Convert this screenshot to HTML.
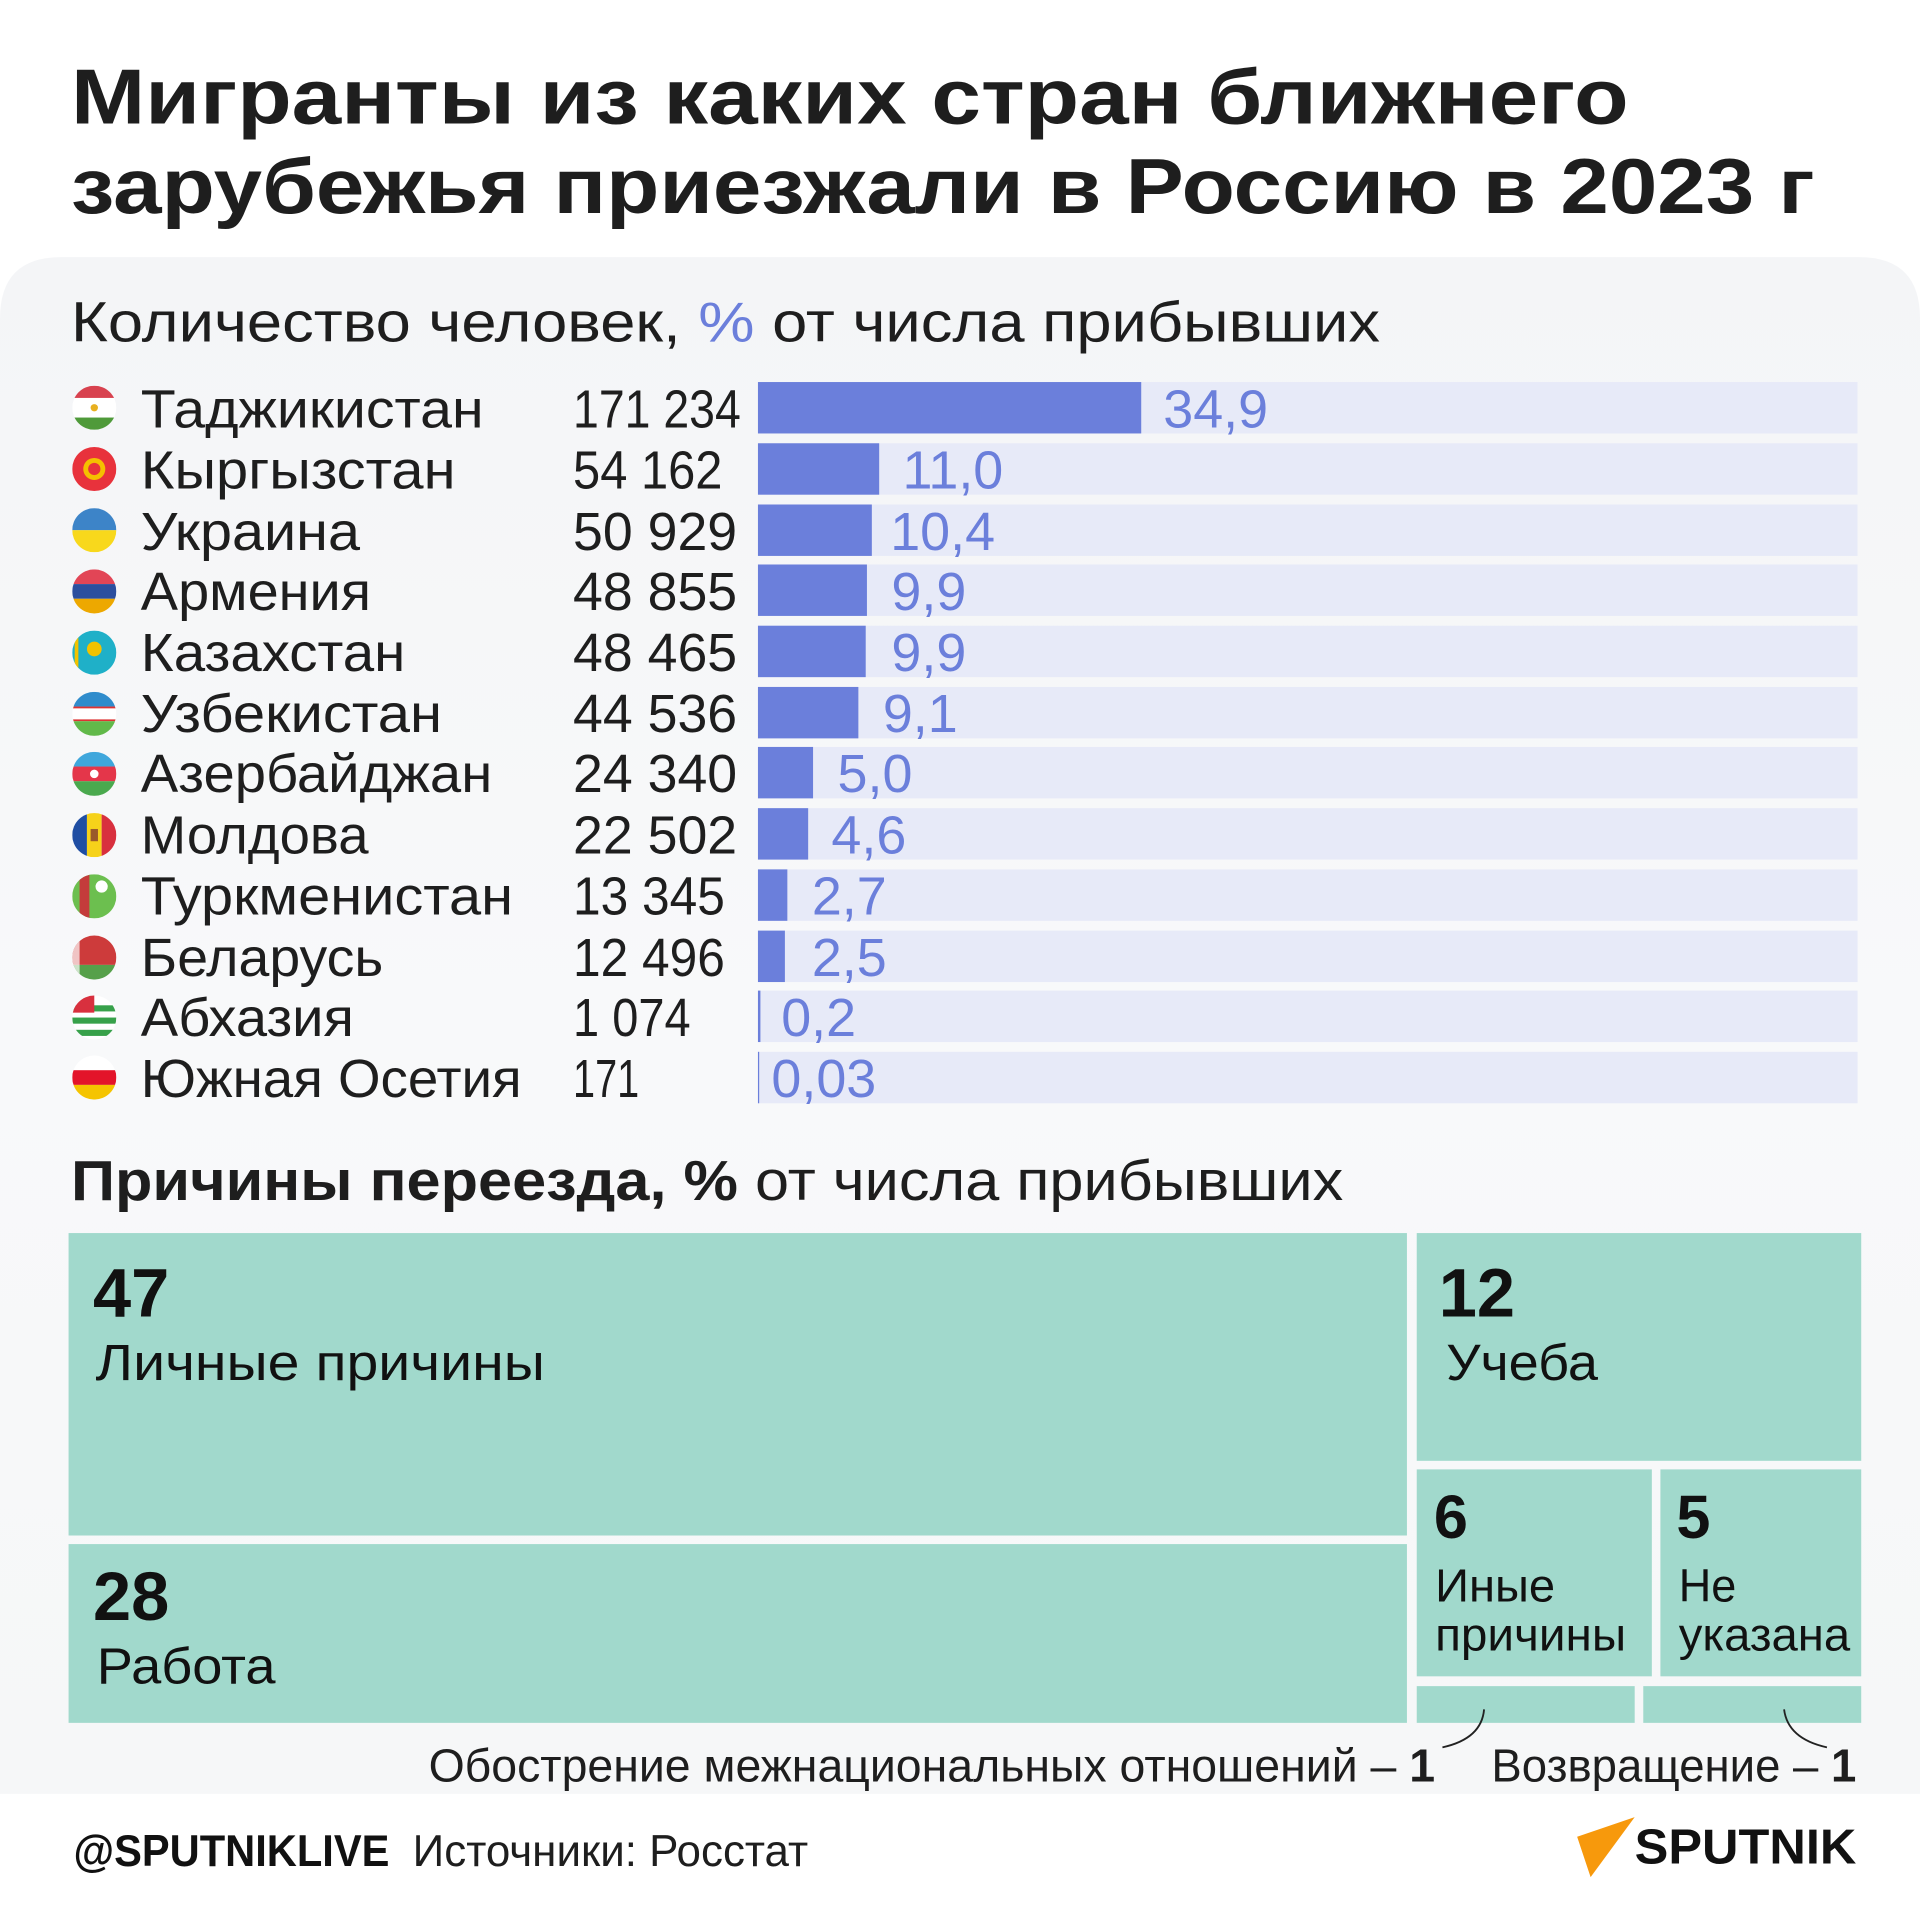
<!DOCTYPE html>
<html><head><meta charset="utf-8"><style>
html,body{margin:0;padding:0;background:#fff}
svg{display:block}
text{font-family:"Liberation Sans","DejaVu Sans",sans-serif}
</style></head><body>
<svg width="1920" height="1920" viewBox="0 0 1568 1568" xmlns="http://www.w3.org/2000/svg">
<defs>
<linearGradient id="pg" x1="0" y1="0" x2="0" y2="1">
<stop offset="0" stop-color="#f4f5f7"/><stop offset="0.5" stop-color="#f8f9fa"/><stop offset="1" stop-color="#f6f7f8"/>
</linearGradient>
<clipPath id="fc"><circle cx="0" cy="0" r="18"/></clipPath>
</defs>
<rect width="1568" height="1568" fill="#fff"/>
<text x="58" y="101" font-size="64" font-weight="bold" fill="#1e1e1e" textLength="1272" lengthAdjust="spacingAndGlyphs">Мигранты из каких стран ближнего</text>
<text x="58" y="174" font-size="64" font-weight="bold" fill="#1e1e1e" textLength="1424" lengthAdjust="spacingAndGlyphs">зарубежья приезжали в Россию в 2023 г</text>
<path d="M0 1465 V260 Q0 210 50 210 H1518 Q1568 210 1568 260 V1465 Z" fill="url(#pg)"/>
<text x="58" y="279" font-size="46" fill="#1e1e1e" textLength="1069" lengthAdjust="spacingAndGlyphs">Количество человек, <tspan fill="#6b7fdb">%</tspan> от числа прибывших</text>

<g font-size="44" fill="#1e1e1e">
<g fill="#e7eaf8">
<rect x="619" y="312" width="898" height="42"/>
<rect x="619" y="362" width="898" height="42"/>
<rect x="619" y="412" width="898" height="42"/>
<rect x="619" y="461" width="898" height="42"/>
<rect x="619" y="511" width="898" height="42"/>
<rect x="619" y="561" width="898" height="42"/>
<rect x="619" y="610" width="898" height="42"/>
<rect x="619" y="660" width="898" height="42"/>
<rect x="619" y="710" width="898" height="42"/>
<rect x="619" y="760" width="898" height="42"/>
<rect x="619" y="809" width="898" height="42"/>
<rect x="619" y="859" width="898" height="42"/>
</g>
<g fill="#6b7fdb">
<rect x="619" y="312" width="313" height="42"/>
<rect x="619" y="362" width="99" height="42"/>
<rect x="619" y="412" width="93" height="42"/>
<rect x="619" y="461" width="89" height="42"/>
<rect x="619" y="511" width="88" height="42"/>
<rect x="619" y="561" width="82" height="42"/>
<rect x="619" y="610" width="45" height="42"/>
<rect x="619" y="660" width="41" height="42"/>
<rect x="619" y="710" width="24" height="42"/>
<rect x="619" y="760" width="22" height="42"/>
<rect x="619" y="809" width="2" height="42"/>
<rect x="619" y="859" width="1" height="42"/>
</g>
<g fill="#6b7fdb">
<text x="950" y="349">34,9</text>
<text x="737" y="399">11,0</text>
<text x="727" y="449">10,4</text>
<text x="728" y="498">9,9</text>
<text x="728" y="548">9,9</text>
<text x="721" y="598">9,1</text>
<text x="684" y="647">5,0</text>
<text x="679" y="697">4,6</text>
<text x="663" y="747">2,7</text>
<text x="663" y="797">2,5</text>
<text x="638" y="846">0,2</text>
<text x="630" y="896">0,03</text>
</g>
<g>
<text x="115" y="349" textLength="280" lengthAdjust="spacingAndGlyphs">Таджикистан</text>
<text x="115" y="399" textLength="257" lengthAdjust="spacingAndGlyphs">Кыргызстан</text>
<text x="115" y="449" textLength="179" lengthAdjust="spacingAndGlyphs">Украина</text>
<text x="115" y="498" textLength="188" lengthAdjust="spacingAndGlyphs">Армения</text>
<text x="115" y="548" textLength="216" lengthAdjust="spacingAndGlyphs">Казахстан</text>
<text x="115" y="598" textLength="246" lengthAdjust="spacingAndGlyphs">Узбекистан</text>
<text x="115" y="647" textLength="287" lengthAdjust="spacingAndGlyphs">Азербайджан</text>
<text x="115" y="697" textLength="186" lengthAdjust="spacingAndGlyphs">Молдова</text>
<text x="115" y="747" textLength="304" lengthAdjust="spacingAndGlyphs">Туркменистан</text>
<text x="115" y="797" textLength="198" lengthAdjust="spacingAndGlyphs">Беларусь</text>
<text x="115" y="846" textLength="174" lengthAdjust="spacingAndGlyphs">Абхазия</text>
<text x="115" y="896" textLength="311" lengthAdjust="spacingAndGlyphs">Южная Осетия</text>
</g>
<g>
<text x="468" y="349" textLength="137" lengthAdjust="spacingAndGlyphs">171 234</text>
<text x="468" y="399" textLength="122" lengthAdjust="spacingAndGlyphs">54 162</text>
<text x="468" y="449" textLength="134" lengthAdjust="spacingAndGlyphs">50 929</text>
<text x="468" y="498" textLength="134" lengthAdjust="spacingAndGlyphs">48 855</text>
<text x="468" y="548" textLength="134" lengthAdjust="spacingAndGlyphs">48 465</text>
<text x="468" y="598" textLength="134" lengthAdjust="spacingAndGlyphs">44 536</text>
<text x="468" y="647" textLength="134" lengthAdjust="spacingAndGlyphs">24 340</text>
<text x="468" y="697" textLength="134" lengthAdjust="spacingAndGlyphs">22 502</text>
<text x="468" y="747" textLength="124" lengthAdjust="spacingAndGlyphs">13 345</text>
<text x="468" y="797" textLength="124" lengthAdjust="spacingAndGlyphs">12 496</text>
<text x="468" y="846" textLength="96" lengthAdjust="spacingAndGlyphs">1 074</text>
<text x="468" y="896" textLength="54" lengthAdjust="spacingAndGlyphs">171</text>
</g>
</g>

<g transform="translate(77,333)" clip-path="url(#fc)"><rect x="-18" y="-18" width="36" height="10" fill="#d8424f"/><rect x="-18" y="-8" width="36" height="16" fill="#fff"/><rect x="-18" y="8" width="36" height="10" fill="#4f9a3a"/><circle r="3" fill="#e8b020"/></g>
<g transform="translate(77,383)" clip-path="url(#fc)"><rect x="-18" y="-18" width="36" height="36" fill="#e8323c"/><circle r="9" fill="#f5c000"/><circle r="5" fill="#e8323c"/></g>
<g transform="translate(77,433)" clip-path="url(#fc)"><rect x="-18" y="-18" width="36" height="18" fill="#3d84c8"/><rect x="-18" y="0" width="36" height="18" fill="#f8d81c"/></g>
<g transform="translate(77,483)" clip-path="url(#fc)"><rect x="-18" y="-18" width="36" height="12" fill="#e24556"/><rect x="-18" y="-6" width="36" height="12" fill="#2c4f9e"/><rect x="-18" y="6" width="36" height="12" fill="#eda800"/></g>
<g transform="translate(77,533)" clip-path="url(#fc)"><rect x="-18" y="-18" width="36" height="36" fill="#1fb0c8"/><circle cy="-3" r="6" fill="#f2c200"/><rect x="-16" y="-14" width="3" height="28" fill="#f2c200"/></g>
<g transform="translate(77,583)" clip-path="url(#fc)"><rect x="-18" y="-18" width="36" height="12" fill="#2f8ccc"/><rect x="-18" y="-6" width="36" height="12" fill="#fff"/><rect x="-18" y="-6" width="36" height="1.5" fill="#d33"/><rect x="-18" y="4.5" width="36" height="1.5" fill="#d33"/><rect x="-18" y="6" width="36" height="12" fill="#61b94a"/></g>
<g transform="translate(77,632)" clip-path="url(#fc)"><rect x="-18" y="-18" width="36" height="12" fill="#3fa7dc"/><rect x="-18" y="-6" width="36" height="12" fill="#e4364a"/><rect x="-18" y="6" width="36" height="12" fill="#4aa94e"/><circle r="3.5" fill="#fff"/></g>
<g transform="translate(77,682)" clip-path="url(#fc)"><rect x="-18" y="-18" width="12" height="36" fill="#1f4ea3"/><rect x="-6" y="-18" width="12" height="36" fill="#f6d21a"/><rect x="6" y="-18" width="12" height="36" fill="#d8303e"/><rect x="-3" y="-5" width="6" height="10" fill="#9a5a2a"/></g>
<g transform="translate(77,732)" clip-path="url(#fc)"><rect x="-18" y="-18" width="36" height="36" fill="#6cbf4f"/><rect x="-12" y="-18" width="8" height="36" fill="#c43b3b"/><circle cx="6" cy="-8" r="5" fill="#fff"/></g>
<g transform="translate(77,782)" clip-path="url(#fc)"><rect x="-18" y="-18" width="36" height="24" fill="#cd3b3b"/><rect x="-18" y="6" width="36" height="12" fill="#56a04a"/><rect x="-18" y="-18" width="6" height="36" fill="#fff" opacity=".7"/></g>
<g transform="translate(77,831)" clip-path="url(#fc)"><rect x="-18" y="-18" width="36" height="36" fill="#fff"/><rect x="-18" y="-10" width="36" height="5" fill="#37a14a"/><rect x="-18" y="0" width="36" height="5" fill="#37a14a"/><rect x="-18" y="10" width="36" height="5" fill="#37a14a"/><rect x="-18" y="-18" width="18" height="14" fill="#d8303e"/></g>
<g transform="translate(77,880)" clip-path="url(#fc)"><rect x="-18" y="-18" width="36" height="12" fill="#fff"/><rect x="-18" y="-6" width="36" height="12" fill="#e3142a"/><rect x="-18" y="6" width="36" height="12" fill="#f5c400"/></g>

<text x="58" y="980" font-size="46" fill="#1e1e1e" textLength="1039" lengthAdjust="spacingAndGlyphs"><tspan font-weight="bold">Причины переезда, %</tspan> от числа прибывших</text>
<g fill="#a1d9cc">
<rect x="56" y="1007" width="1093" height="247"/>
<rect x="56" y="1261" width="1093" height="146"/>
<rect x="1157" y="1007" width="363" height="186"/>
<rect x="1157" y="1200" width="192" height="169"/>
<rect x="1356" y="1200" width="164" height="169"/>
<rect x="1157" y="1377" width="178" height="30"/>
<rect x="1342" y="1377" width="178" height="30"/>
</g>
<g fill="#111">
<text x="76" y="1075" font-size="56" font-weight="bold">47</text>
<text x="78" y="1127" font-size="42" textLength="367" lengthAdjust="spacingAndGlyphs">Личные причины</text>
<text x="76" y="1323" font-size="56" font-weight="bold">28</text>
<text x="79" y="1375" font-size="42" textLength="146" lengthAdjust="spacingAndGlyphs">Работа</text>
<text x="1175" y="1075" font-size="56" font-weight="bold">12</text>
<text x="1181" y="1127" font-size="42" textLength="124" lengthAdjust="spacingAndGlyphs">Учеба</text>
<text x="1171" y="1256" font-size="50" font-weight="bold">6</text>
<text x="1172" y="1308" font-size="38" textLength="98" lengthAdjust="spacingAndGlyphs">Иные</text>
<text x="1172" y="1348" font-size="38" textLength="156" lengthAdjust="spacingAndGlyphs">причины</text>
<text x="1369" y="1256" font-size="50" font-weight="bold">5</text>
<text x="1371" y="1308" font-size="38" textLength="47" lengthAdjust="spacingAndGlyphs">Не</text>
<text x="1371" y="1348" font-size="38" textLength="140" lengthAdjust="spacingAndGlyphs">указана</text>
</g>
<g fill="#1e1e1e" font-size="38">
<text x="350" y="1455" textLength="822" lengthAdjust="spacingAndGlyphs">Обострение межнациональных отношений – <tspan font-weight="bold">1</tspan></text>
<text x="1218" y="1455" textLength="298" lengthAdjust="spacingAndGlyphs">Возвращение – <tspan font-weight="bold">1</tspan></text>
</g>
<path d="M1212 1396 Q1210 1420 1178 1427" stroke="#222" stroke-width="1.5" fill="none"/>
<path d="M1457 1396 Q1460 1420 1492 1427" stroke="#222" stroke-width="1.5" fill="none"/>

<text x="60" y="1524" font-size="36" font-weight="bold" fill="#111" textLength="258" lengthAdjust="spacingAndGlyphs">@SPUTNIKLIVE</text>
<text x="337" y="1524" font-size="36" fill="#1e1e1e" textLength="323" lengthAdjust="spacingAndGlyphs">Источники: Росстат</text>
<polygon points="1288,1500 1335,1484 1299,1533" fill="#f7990c"/>
<text x="1335" y="1522" font-size="40" font-weight="bold" fill="#111" textLength="181" lengthAdjust="spacingAndGlyphs">SPUTNIK</text>
</svg>
</body></html>
